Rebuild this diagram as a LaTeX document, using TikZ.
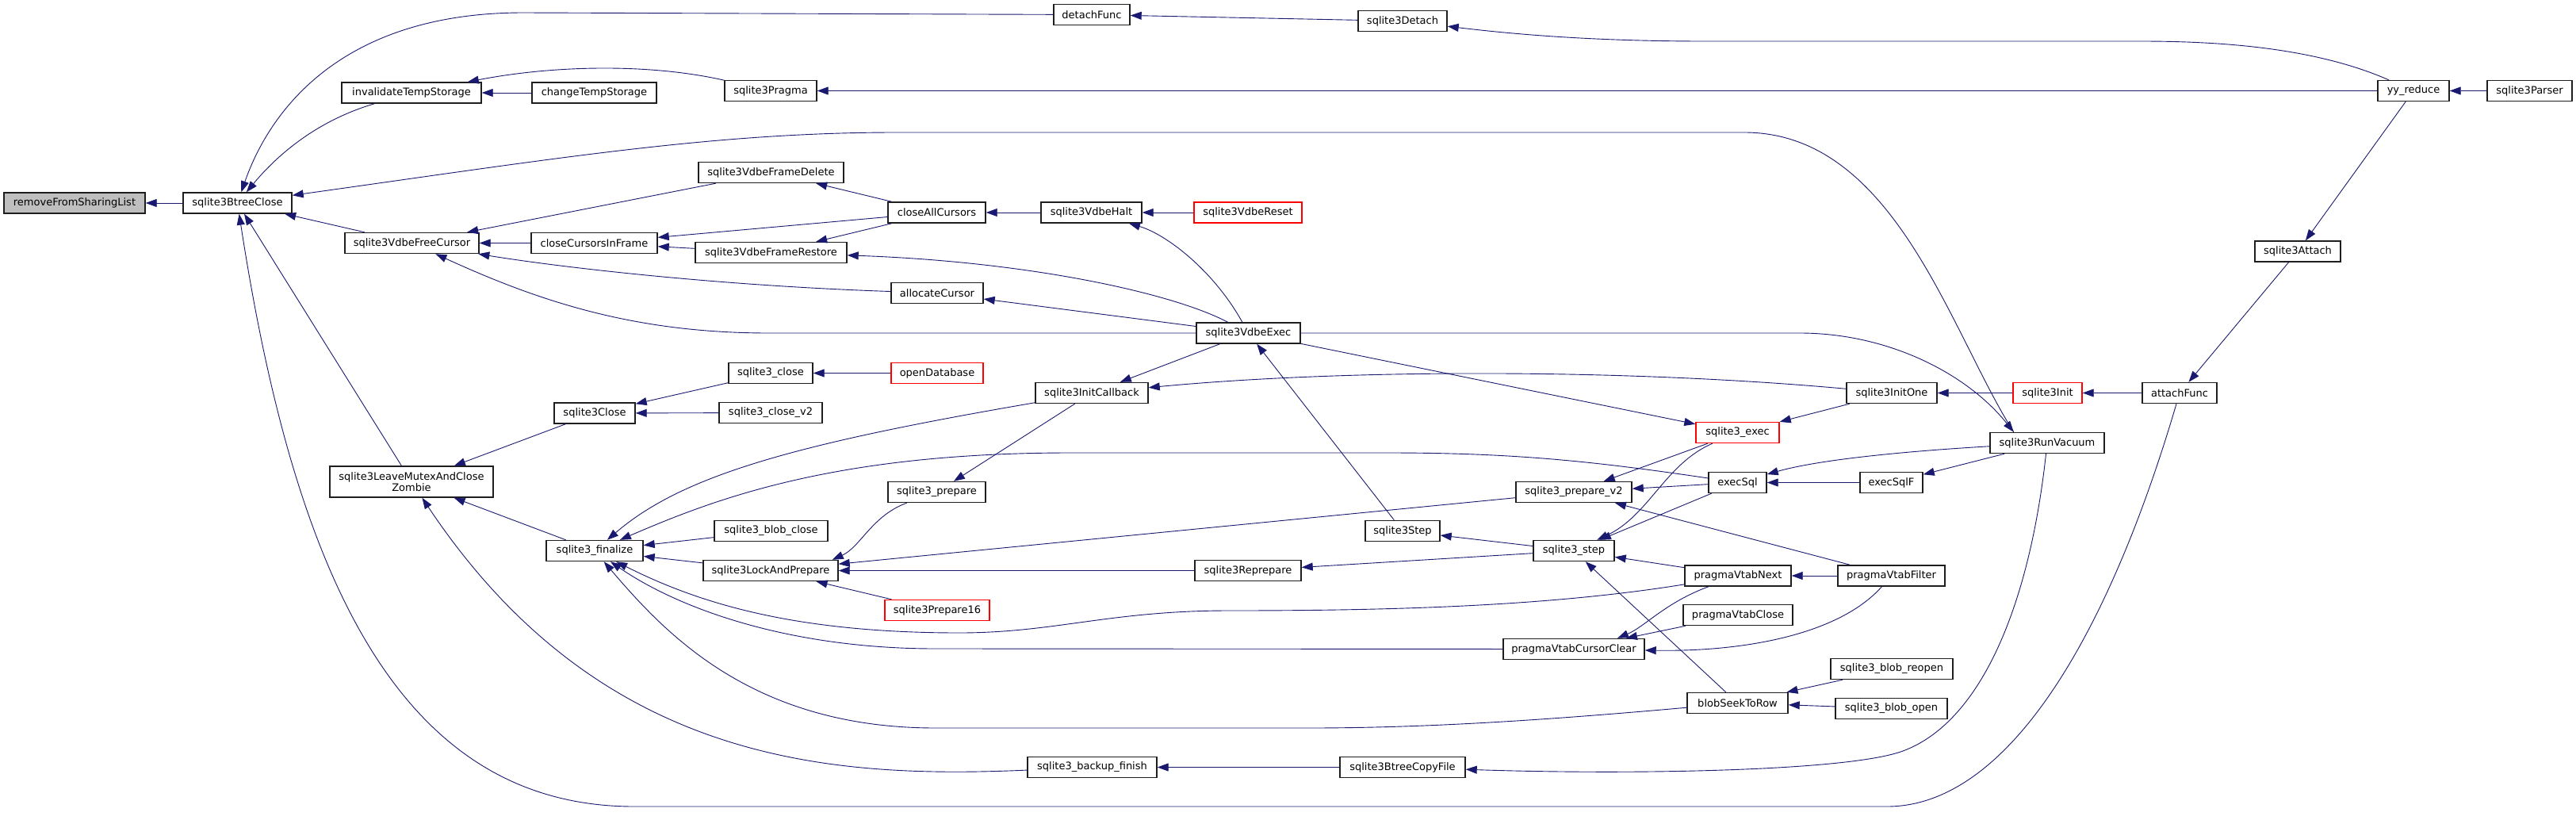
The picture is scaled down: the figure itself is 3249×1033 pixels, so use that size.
\documentclass[tikz,border=0pt]{standalone}
\usepackage{fontspec}
\setmainfont{DejaVu Sans}
\usetikzlibrary{arrows.meta}
\definecolor{EdgeBlue}{RGB}{25,25,112}
\definecolor{BoxLine}{RGB}{30,30,30}
\definecolor{RootFill}{RGB}{191,191,191}
\tikzset{
  fn/.style={draw=BoxLine, line width=1.4bp, fill=white, minimum height=26bp,
    inner sep=2bp, font=\fontsize{13bp}{14.5bp}\selectfont, align=center},
  fnred/.style={fn, draw=red},
  fnroot/.style={fn, fill=RootFill},
  call/.style={-{Triangle[length=14bp,width=10bp]}, EdgeBlue, line width=0.9bp},
}
\begin{document}
\begin{tikzpicture}[x=1bp, y=-1bp]
  \useasboundingbox (0,0) rectangle (3249,1033);
  % functions
  \node[fnroot, minimum width=178bp] (rmShare) at (94,256) {removeFromSharingList};
  \node[fn, minimum width=137bp] (btClose) at (299.5,256) {sqlite3BtreeClose};
  \node[fn, minimum width=176bp] (invTemp) at (519,117) {invalidateTempStorage};
  \node[fn, minimum width=157bp] (chgTemp) at (749.5,117) {changeTempStorage};
  \node[fn, minimum width=116bp] (pragma) at (972,114.5) {sqlite3Pragma};
  \node[fn, minimum width=96bp] (detFunc) at (1377,18.5) {detachFunc};
  \node[fn, minimum width=112bp] (detach) at (1769,26.5) {sqlite3Detach};
  \node[fn, minimum width=90bp] (yyReduce) at (3044,114.5) {yy\_reduce};
  \node[fn, minimum width=107bp] (parser) at (3190.5,114.5) {sqlite3Parser};
  \node[fn, minimum width=108bp] (attach) at (2898,317) {sqlite3Attach};
  \node[fn, minimum width=94bp] (attFunc) at (2749,495.5) {attachFunc};
  \node[fnred, minimum width=87bp] (init) at (2582.5,495.5) {sqlite3Init};
  \node[fn, minimum width=114bp] (initOne) at (2386,495.5) {sqlite3InitOne};
  \node[fn, minimum width=144bp] (runVac) at (2582,558.5) {sqlite3RunVacuum};
  \node[fn, minimum width=169bp] (freeCur) at (519.5,306.5) {sqlite3VdbeFreeCursor};
  \node[fn, minimum width=159bp] (closeCIF) at (749.5,306.5) {closeCursorsInFrame};
  \node[fn, minimum width=183bp] (frDelete) at (972.5,217.5) {sqlite3VdbeFrameDelete};
  \node[fn, minimum width=191bp] (frRestore) at (972.5,318.5) {sqlite3VdbeFrameRestore};
  \node[fn, minimum width=123bp] (closeAll) at (1181.5,268) {closeAllCursors};
  \node[fn, minimum width=127bp] (vdbeHalt) at (1376.5,268) {sqlite3VdbeHalt};
  \node[fnred, minimum width=136bp] (vdbeReset) at (1574,268) {sqlite3VdbeReset};
  \node[fn, minimum width=116bp] (allocCur) at (1182,369.5) {allocateCursor};
  \node[fn, minimum width=131bp] (vdbeExec) at (1574.5,420) {sqlite3VdbeExec};
  \node[fn, minimum width=206bp, minimum height=39bp] (leaveMutex) at (519,607.5) {sqlite3LeaveMutexAndClose\\Zombie};
  \node[fn, minimum width=102bp] (s3Close) at (750,521) {sqlite3Close};
  \node[fn, minimum width=106bp] (closeApi) at (972,470.5) {sqlite3\_close};
  \node[fnred, minimum width=116bp] (openDb) at (1182,470.5) {openDatabase};
  \node[fn, minimum width=130bp] (closeV2) at (972,520.5) {sqlite3\_close\_v2};
  \node[fn, minimum width=122bp] (finalize) at (750,694.5) {sqlite3\_finalize};
  \node[fn, minimum width=142bp] (initCb) at (1377,495.5) {sqlite3InitCallback};
  \node[fn, minimum width=123bp] (prepare) at (1181.5,620.5) {sqlite3\_prepare};
  \node[fn, minimum width=143bp] (blobClose) at (972.5,669.5) {sqlite3\_blob\_close};
  \node[fn, minimum width=170bp] (lockPrep) at (972,719.5) {sqlite3LockAndPrepare};
  \node[fnred, minimum width=132bp] (prep16) at (1182,769.5) {sqlite3Prepare16};
  \node[fn, minimum width=134bp] (reprepare) at (1574,719.5) {sqlite3Reprepare};
  \node[fnred, minimum width=105bp] (exec) at (2191.5,545.5) {sqlite3\_exec};
  \node[fn, minimum width=73bp] (execSql) at (2191.5,608.5) {execSql};
  \node[fn, minimum width=79bp] (execSqlF) at (2385.5,608.5) {execSqlF};
  \node[fn, minimum width=146bp] (prepareV2) at (1985,620.5) {sqlite3\_prepare\_v2};
  \node[fn, minimum width=94bp] (vdbeStep) at (1769,669.5) {sqlite3Step};
  \node[fn, minimum width=102bp] (stepApi) at (1985,694.5) {sqlite3\_step};
  \node[fn, minimum width=134bp] (vtNext) at (2192,726) {pragmaVtabNext};
  \node[fn, minimum width=135bp] (vtFilter) at (2385.5,726) {pragmaVtabFilter};
  \node[fn, minimum width=138bp] (vtClose) at (2192,775.5) {pragmaVtabClose};
  \node[fn, minimum width=178bp] (vtClear) at (1985,818.5) {pragmaVtabCursorClear};
  \node[fn, minimum width=154bp] (blobReopen) at (2386,843.5) {sqlite3\_blob\_reopen};
  \node[fn, minimum width=127bp] (seekRow) at (2191.5,886.5) {blobSeekToRow};
  \node[fn, minimum width=141bp] (blobOpen) at (2385.5,893.5) {sqlite3\_blob\_open};
  \node[fn, minimum width=158bp] (copyFile) at (1769,967.5) {sqlite3BtreeCopyFile};
  \node[fn, minimum width=163bp] (backupFin) at (1377.5,967.5) {sqlite3\_backup\_finish};
  % calls, arrow at the callee
  \draw[call] (btClose) -- (rmShare);
  \draw[call] (invTemp) .. controls (400,152) and (350,195) .. (btClose);
  \draw[call] (detFunc) -- (660,16) .. controls (430,16) and (340,140) .. (btClose);
  \draw[call] (freeCur) -- (btClose);
  \draw[call] (runVac.162) .. controls (2460,420) and (2390,167) .. (2200,167) -- (1130,167)
    .. controls (900,167) and (700,200) .. (btClose);
  \draw[call] (leaveMutex) -- (btClose);
  \draw[call] (attFunc) .. controls (2657,808) and (2530,1017) .. (2380,1017) -- (800,1017)
    .. controls (500,1017) and (371,719) .. (btClose);
  \draw[call] (chgTemp) -- (invTemp);
  \draw[call] (pragma) .. controls (820,80) and (700,82) .. (invTemp);
  \draw[call] (yyReduce) -- (pragma);
  \draw[call] (detach) -- (detFunc);
  \draw[call] (yyReduce) .. controls (2920,60) and (2800,52) .. (2700,52) -- (2150,52)
    .. controls (2000,52) and (1900,42) .. (detach);
  \draw[call] (parser) -- (yyReduce);
  \draw[call] (yyReduce) -- (attach);
  \draw[call] (attach) -- (attFunc);
  \draw[call] (attFunc) -- (init);
  \draw[call] (init) -- (initOne);
  \draw[call] (frDelete) -- (freeCur);
  \draw[call] (closeCIF) -- (freeCur);
  \draw[call] (allocCur) .. controls (900,360) and (700,336) .. (freeCur);
  \draw[call] (vdbeExec) -- (970,420) .. controls (800,420) and (680,380) .. (freeCur);
  \draw[call] (closeAll) -- (closeCIF);
  \draw[call] (frRestore) -- (closeCIF);
  \draw[call] (closeAll) -- (frDelete);
  \draw[call] (closeAll) -- (frRestore);
  \draw[call] (vdbeExec) .. controls (1480,370) and (1300,330) .. (frRestore);
  \draw[call] (vdbeHalt) -- (closeAll);
  \draw[call] (vdbeReset) -- (vdbeHalt);
  \draw[call] (vdbeExec) .. controls (1530,340) and (1470,295) .. (vdbeHalt);
  \draw[call] (vdbeExec) -- (allocCur);
  \draw[call] (vdbeExec) -- (2270,420) .. controls (2380,420) and (2480,470) .. (runVac.162);
  \draw[call] (vdbeExec) -- (exec);
  \draw[call] (vdbeStep) -- (vdbeExec);
  \draw[call] (vdbeExec) -- (initCb);
  \draw[call] (initOne) .. controls (2050,465) and (1700,465) .. (initCb);
  \draw[call] (initOne) -- (exec);
  \draw[call] (closeApi) -- (s3Close);
  \draw[call] (openDb) -- (closeApi);
  \draw[call] (closeV2) -- (s3Close);
  \draw[call] (s3Close) -- (leaveMutex);
  \draw[call] (finalize) -- (leaveMutex);
  \draw[call] (backupFin) .. controls (1046,982) and (756,963) .. (leaveMutex);
  \draw[call] (initCb) .. controls (1000,560) and (860,600) .. (finalize);
  \draw[call] (execSql) .. controls (2000,580) and (1900,571) .. (1750,571) -- (1350,571)
    .. controls (1050,571) and (900,630) .. (finalize);
  \draw[call] (blobClose) -- (finalize);
  \draw[call] (lockPrep) -- (finalize);
  \draw[call] (vtNext) .. controls (1950,765) and (1750,770) .. (1550,770)
    .. controls (1400,770) and (1330,798) .. (1210,798)
    .. controls (1000,798) and (880,760) .. (finalize);
  \draw[call] (vtClear) -- (1180,818) .. controls (1000,818) and (860,770) .. (finalize);
  \draw[call] (seekRow) .. controls (1950,908) and (1800,918) .. (1650,918) -- (1180,918)
    .. controls (950,918) and (840,800) .. (finalize);
  \draw[call] (initCb) -- (prepare);
  \draw[call] (prepare) .. controls (1100,650) and (1085,690) .. (lockPrep.10);
  \draw[call] (prepareV2) -- (lockPrep);
  \draw[call] (reprepare) -- (lockPrep);
  \draw[call] (prep16) -- (lockPrep);
  \draw[call] (stepApi) -- (reprepare);
  \draw[call] (stepApi) -- (vdbeStep);
  \draw[call] (exec) .. controls (2100,585) and (2080,650) .. (stepApi);
  \draw[call] (execSql) -- (stepApi);
  \draw[call] (vtNext) -- (stepApi);
  \draw[call] (seekRow) -- (stepApi);
  \draw[call] (exec) -- (prepareV2);
  \draw[call] (execSql) -- (prepareV2);
  \draw[call] (vtFilter) -- (prepareV2);
  \draw[call] (runVac) .. controls (2420,568) and (2300,578) .. (execSql);
  \draw[call] (execSqlF) -- (execSql);
  \draw[call] (runVac) -- (execSqlF);
  \draw[call] (vtFilter) -- (vtNext);
  \draw[call] (vtNext) .. controls (2100,760) and (2075,790) .. (vtClear.14);
  \draw[call] (vtClose) -- (vtClear);
  \draw[call] (vtFilter) .. controls (2320,800) and (2200,822) .. (vtClear);
  \draw[call] (blobReopen) -- (seekRow);
  \draw[call] (blobOpen) -- (seekRow);
  \draw[call] (runVac) .. controls (2560,760) and (2500,910) .. (2400,947)
    .. controls (2330,973) and (2050,977) .. (copyFile);
  \draw[call] (copyFile) -- (backupFin);
\end{tikzpicture}
\end{document}
